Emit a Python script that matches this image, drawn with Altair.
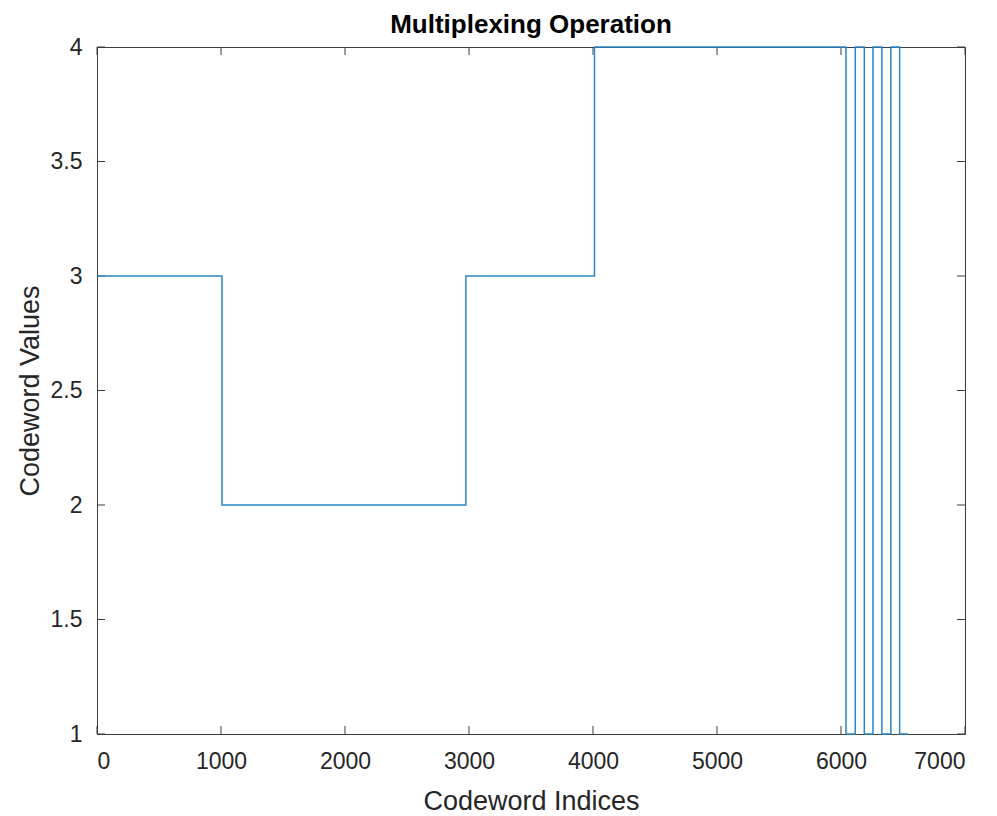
import altair as alt
import pandas as pd

# step data: breakpoints (Codeword Indices) and values (Codeword Values)
x_break = [0, 1008, 2975, 4012, 6040, 6115, 6188, 6258, 6330, 6402, 6473, 6540]
y_vals = [3, 2, 3, 4, 1, 4, 1, 4, 1, 4, 1, 1]

x_ticks = [0, 1000, 2000, 3000, 4000, 5000, 6000, 7000]
y_ticks = [1, 1.5, 2, 2.5, 3, 3.5, 4]

W, H = 868, 687
TICK = 8
FONT = "Liberation Sans"
TXT = "#262626"
LINE = "#2a86cb"
FRAME = "#3d3d3d"

line_df = pd.DataFrame({"x": x_break, "y": y_vals})
xt_df = pd.DataFrame({"x": x_ticks})
yt_df = pd.DataFrame({"y": y_ticks})

xs = alt.Scale(domain=[0, 7000], nice=False, zero=False)
ys = alt.Scale(domain=[1, 4], nice=False, zero=False)

line = alt.Chart(line_df).mark_line(
    interpolate="step-after", color=LINE, strokeWidth=1.5
).encode(
    x=alt.X("x:Q", scale=xs, axis=alt.Axis(
        title="Codeword Indices", values=x_ticks, format="d",
        tickSize=0, labelPadding=16, domain=False, grid=False,
        labelFontSize=23, labelColor=TXT, labelFont=FONT,
        titleFontSize=27, titleFont=FONT, titleColor=TXT, titleFontWeight="normal",
        titleX=W / 2, titleY=67, titleBaseline="middle", titleAlign="center")),
    y=alt.Y("y:Q", scale=ys, axis=alt.Axis(
        title="Codeword Values", values=y_ticks, format="~g",
        tickSize=0, labelPadding=15, domain=False, grid=False,
        labelFontSize=23, labelColor=TXT, labelFont=FONT,
        titleFontSize=27, titleFont=FONT, titleColor=TXT, titleFontWeight="normal",
        titleX=-67, titleY=H / 2, titleBaseline="middle", titleAlign="center", titleAngle=-90)),
)

bottom_ticks = alt.Chart(xt_df).mark_rule(color=FRAME, strokeWidth=1).encode(
    x=alt.X("x:Q", scale=xs), y=alt.value(H), y2=alt.value(H - TICK))
top_ticks = alt.Chart(xt_df).mark_rule(color=FRAME, strokeWidth=1).encode(
    x=alt.X("x:Q", scale=xs), y=alt.value(0), y2=alt.value(TICK))
left_ticks = alt.Chart(yt_df).mark_rule(color=FRAME, strokeWidth=1).encode(
    y=alt.Y("y:Q", scale=ys), x=alt.value(0), x2=alt.value(TICK))
right_ticks = alt.Chart(yt_df).mark_rule(color=FRAME, strokeWidth=1).encode(
    y=alt.Y("y:Q", scale=ys), x=alt.value(W), x2=alt.value(W - TICK))

chart = alt.layer(bottom_ticks, top_ticks, left_ticks, right_ticks, line).properties(
    width=W, height=H,
    title=alt.TitleParams("Multiplexing Operation", font=FONT, fontSize=26,
                          fontWeight="bold", color="#000000", anchor="middle", offset=-2),
    autosize=alt.AutoSizeParams(type="none"),
    padding={"left": 89, "top": 39, "right": 20, "bottom": 80},
).configure(
    background="white"
).configure_view(
    stroke=FRAME, strokeWidth=1
)

chart.save("out.html", embed_options={"renderer": "svg", "actions": False})
